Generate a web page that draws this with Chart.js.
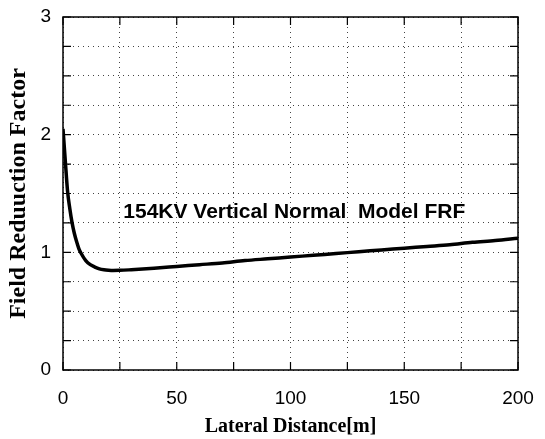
<!DOCTYPE html>
<html>
<head>
<meta charset="utf-8">
<script src="https://cdn.jsdelivr.net/npm/chart.js@4/dist/chart.umd.min.js"></script>
<style>
  html, body { margin: 0; padding: 0; background: #fff; }
  #wrap { width: 545px; height: 439px; }
</style>
</head>
<body>
<div id="wrap"><canvas id="frf"></canvas></div>
<script>
// lateral distance [m] and field reduction factor
const distance = [0, 1, 2, 3, 4, 5, 6, 7, 8, 10, 12, 14, 16, 18, 20, 22, 25, 30, 35, 40,
                  50, 60, 70, 80, 90, 100, 110, 120, 130, 140, 150, 160, 170, 180, 190, 200];
const frf = [2.05, 1.78, 1.52, 1.37, 1.25, 1.16, 1.09, 1.03, 0.99, 0.93, 0.895, 0.875, 0.86, 0.852, 0.848, 0.846, 0.847, 0.852, 0.858, 0.865,
             0.88, 0.895, 0.91, 0.93, 0.945, 0.96, 0.975, 0.99, 1.005, 1.02, 1.035, 1.05, 1.065, 1.085, 1.10, 1.12];

const xTitle = 'Lateral Distance[m]';
const yTitle = 'Field Reduuction Factor';
const note = '154KV Vertical Normal  Model FRF';
const notePos = { x: 26.5, y: 1.34 };

// frame + inward ticks like the original plot
const framePlugin = {
  id: 'frame',
  afterDraw(chart) {
    const { ctx, chartArea: a, scales } = chart;
    ctx.save();
    ctx.strokeStyle = '#000';
    ctx.lineWidth = 1.5;
    ctx.strokeRect(a.left, a.top, a.right - a.left, a.bottom - a.top);
    ctx.lineWidth = 1.2;
    ctx.beginPath();
    scales.x.ticks.forEach(t => {
      const px = scales.x.getPixelForValue(t.value);
      ctx.moveTo(px, a.bottom); ctx.lineTo(px, a.bottom - 8);
      ctx.moveTo(px, a.top); ctx.lineTo(px, a.top + 8);
    });
    scales.y.ticks.forEach(t => {
      const py = scales.y.getPixelForValue(t.value);
      ctx.moveTo(a.left, py); ctx.lineTo(a.left + 8, py);
      ctx.moveTo(a.right, py); ctx.lineTo(a.right - 8, py);
    });
    ctx.stroke();
    // annotation text
    ctx.fillStyle = '#000';
    ctx.font = 'bold 21px "Liberation Sans", Arial, sans-serif';
    ctx.textBaseline = 'middle';
    ctx.fillText(note, scales.x.getPixelForValue(notePos.x), scales.y.getPixelForValue(notePos.y));
    ctx.restore();
  }
};

const gridStyle = {
  color: '#444',
  lineWidth: 1,
  drawTicks: false,
  drawOnChartArea: true
};

new Chart(document.getElementById('frf'), {
  type: 'line',
  data: {
    datasets: [{
      data: distance.map((d, i) => ({ x: d, y: frf[i] })),
      borderColor: '#000',
      borderWidth: 3.5,
      pointRadius: 0,
      cubicInterpolationMode: 'monotone',
      fill: false
    }]
  },
  options: {
    responsive: true,
    maintainAspectRatio: false,
    animation: false,
    layout: { padding: { top: 17, right: 27, left: 0, bottom: 0 } },
    plugins: { legend: { display: false }, tooltip: { enabled: false } },
    scales: {
      x: {
        type: 'linear',
        min: 0, max: 200,
        border: { display: false, dash: [1, 4] },
        grid: gridStyle,
        ticks: {
          stepSize: 25,
          padding: 17,
          color: '#000',
          font: { family: '"Liberation Sans", Arial, sans-serif', size: 19 },
          maxRotation: 0,
          autoSkip: false,
          callback: v => (v % 50 === 0 ? v : '')
        },
        title: {
          display: true,
          text: xTitle,
          color: '#000',
          padding: { top: 0, bottom: 0 },
          font: { family: '"Liberation Serif", "Times New Roman", serif', size: 20, weight: 'bold' }
        },
        afterFit: s => { s.height = 69; s.paddingLeft = 0; s.paddingRight = 0; }
      },
      y: {
        min: 0, max: 3,
        border: { display: false, dash: [1, 4] },
        grid: gridStyle,
        ticks: {
          stepSize: 0.25,
          padding: 12,
          color: '#000',
          font: { family: '"Liberation Sans", Arial, sans-serif', size: 19 },
          autoSkip: false,
          callback: v => (Number.isInteger(v) ? v : '')
        },
        title: {
          display: true,
          text: yTitle,
          color: '#000',
          padding: { top: 4, bottom: 0 },
          font: { family: '"Liberation Serif", "Times New Roman", serif', size: 24, weight: 'bold' }
        },
        afterFit: s => { s.width = 63; s.paddingTop = 0; s.paddingBottom = 0; }
      }
    }
  },
  plugins: [framePlugin]
});
</script>
</body>
</html>
